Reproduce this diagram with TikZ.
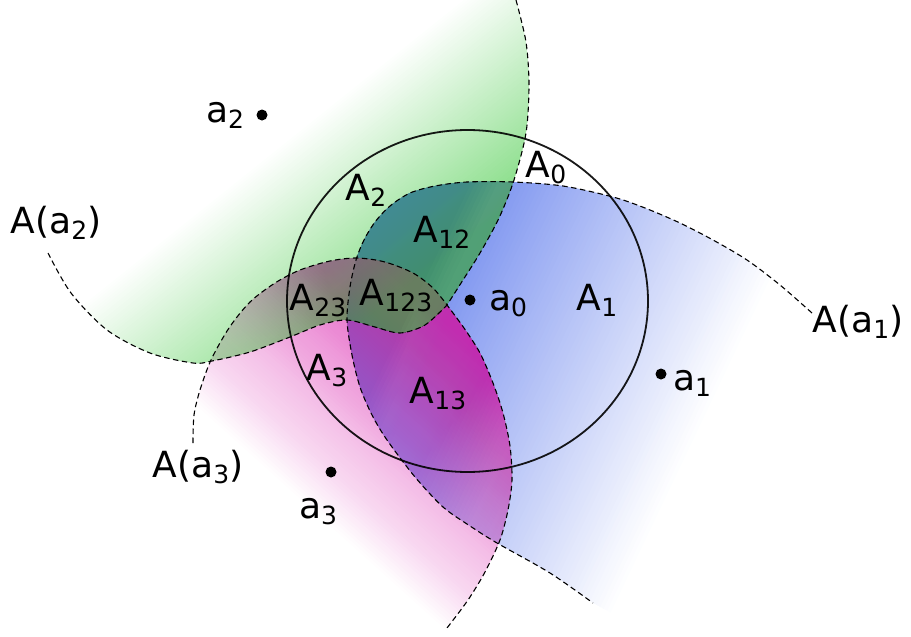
\documentclass[tikz,border=0pt]{standalone}
\usepackage{fontspec}
\setmainfont{DejaVu Sans}

\definecolor{bluefill}{RGB}{110,136,238}
\definecolor{pinkfill}{RGB}{217,30,172}
\definecolor{greenfill}{RGB}{60,200,60}

\newcommand\lowsub[1]{\raisebox{-6.5pt}{\fontsize{25}{25}\selectfont #1}}

% borders of the three areas
\newcommand\blueline{plot[smooth] coordinates {(812,313) (780,285) (747,260) (713,240)
  (680,223) (645,208) (613,197) (563,186) (513,182) (467,182) (435,186) (410,193)
  (390,206) (375,222) (364,240) (356,260) (350,287) (347,320) (352,355) (360,387)
  (372,415) (387,440) (415,477) (443,507) (470,526) (497,543) (550,573) (593,603)}}
\newcommand\greenline{plot[smooth] coordinates {(516,0) (526,42) (529,85) (526,133)
  (514,180) (499,218) (480,253) (463,280) (447,305)}
  -- plot[smooth] coordinates {(447,305) (425,325) (400,333) (375,327) (347,320)
  (320,325) (290,337) (250,352) (212,361) (193,363) (150,353) (107,330) (71,293) (48,253)}}
\newcommand\pinkline{plot[smooth] coordinates {(193,443) (194,415) (200,390) (211,360)
  (229,328) (250,302) (275,283) (300,270) (330,261) (357,258) (385,262) (413,273)
  (433,288) (447,305)}
  -- plot[smooth] coordinates {(447,305) (464,328) (480,353) (493,383) (503,413)
  (510,446) (512,480) (508,510) (500,540) (485,572) (468,600) (447,628)}}

% nested strips: colour #1 fading out along the axis turned by #2
\newcommand\fadestrips[5]{%
  \begin{scope}[rotate=#2]
    \foreach \n in {1,...,80} {
      \pgfmathsetmacro\stripop{1/(80/#5-\n+1)}
      \pgfmathsetmacro\stripend{#4-(\n-1)/80*(#4-#3)}
      \fill[#1, fill opacity=\stripop] (-1500,-1500) rectangle (\stripend,1500);
    }
  \end{scope}}

\begin{document}
\begin{tikzpicture}[x=1pt, y=-1pt,
    edge/.style={dash pattern=on 5.5pt off 3.5pt, line width=1.1pt},
    ring/.style={line width=1.8pt, draw opacity=0.9},
    dot/.style={circle, fill, inner sep=0pt, minimum size=11pt},
    lab/.style={font=\fontsize{36}{40}\selectfont, inner sep=0pt, anchor=base}]
  \useasboundingbox (0,0) rectangle (911,637);

  % coloured areas
  \begin{scope}
    \clip \blueline -- (660,640) -- (911,640) -- (911,313) -- cycle;
    \fadestrips{bluefill}{-25.5}{500}{815}{0.98}
  \end{scope}
  \begin{scope}
    \clip \pinkline -- (447,637) -- (193,637) -- cycle;
    \fadestrips{pinkfill}{-132}{-60}{170}{0.78}
  \end{scope}
  \begin{scope}
    \clip \greenline -- (0,253) -- (0,0) -- cycle;
    \fadestrips{greenfill}{128.7}{-480}{-290}{0.6}
  \end{scope}

  \draw[ring] (467.5,301) ellipse [x radius=180.5, y radius=171];
  \draw[edge] \blueline;
  \draw[edge] \greenline;
  \draw[edge] \pinkline;

  % points
  \node[dot] (a0) at (470,300) {};
  \node[dot] (a1) at (661,374) {};
  \node[dot] (a2) at (262,115) {};
  \node[dot] (a3) at (331,472) {};
  \node[lab] (la0) at (508,310) {a\lowsub{0}};
  \node[lab] (la1) at (692,390) {a\lowsub{1}};
  \node[lab] (la2) at (225,122) {a\lowsub{2}};
  \node[lab] (la3) at (318,518) {a\lowsub{3}};

  % areas
  \node[lab] (Aa1) at (858,332) {A(a\lowsub{1})};
  \node[lab] (Aa2) at (56,233) {A(a\lowsub{2})};
  \node[lab] (Aa3) at (198,477) {A(a\lowsub{3})};
  \node[lab] (A0) at (546,177) {A\lowsub{0}};
  \node[lab] (A1) at (597,310) {A\lowsub{1}};
  \node[lab] (A2) at (366,200) {A\lowsub{2}};
  \node[lab] (A3) at (327,380) {A\lowsub{3}};
  \node[lab] (A12) at (442,242) {A\lowsub{12}};
  \node[lab] (A13) at (438,403) {A\lowsub{13}};
  \node[lab] (A23) at (318,310) {A\lowsub{23}};
  \node[lab] (A123) at (396,305) {A\lowsub{123}};
\end{tikzpicture}
\end{document}
